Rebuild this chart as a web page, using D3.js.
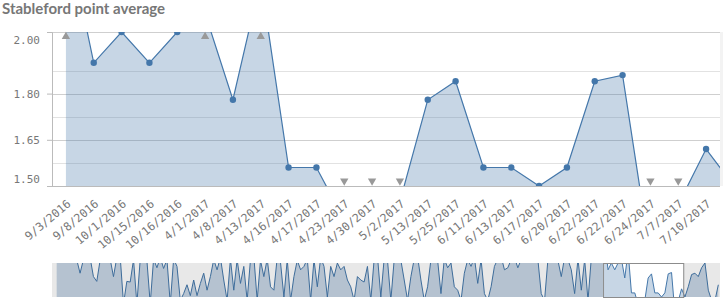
<!DOCTYPE html>
<html>
<head>
<meta charset="utf-8">
<script src="https://cdn.jsdelivr.net/npm/d3@7"></script>
<style>
  body { margin: 0; background: #fff; }
  .axis text { font-family: "DejaVu Sans Mono", monospace; fill: #777; }
</style>
</head>
<body>
<svg id="chart"></svg>
<script>
// rounds shown in the visible window
const categories = ['9/3/2016', '9/8/2016', '10/1/2016', '10/15/2016', '10/16/2016', '4/1/2017',
  '4/8/2017', '4/13/2017', '4/16/2017', '4/17/2017', '4/23/2017', '4/30/2017', '5/2/2017',
  '5/13/2017', '5/25/2017', '6/11/2017', '6/13/2017', '6/17/2017', '6/20/2017', '6/22/2017',
  '6/22/2017', '6/24/2017', '7/7/2017', '7/10/2017'];

const values = [2.33, 1.90, 2.00, 1.90, 2.00, 2.06, 1.78, 2.17, 1.56, 1.56, 1.39, 1.40, 1.45,
  1.78, 1.84, 1.56, 1.56, 1.50, 1.56, 1.84, 1.86, 1.27, 1.44, 1.62];

// rounds before / after the window (only seen in the scroll overview)
const earlierValues = [
  2.10, 2.15, 2.08, 2.12, 2.20, 2.10, 2.05, 1.85, 2.05, 2.12,
  2.08, 1.80, 1.73, 2.04, 2.10, 2.15, 2.06, 1.80, 2.08, 2.10,
  1.40, 1.73, 1.72, 2.05, 1.40, 2.05, 2.10, 2.04, 1.40, 2.06,
  1.93, 2.08, 1.92, 2.05, 1.40, 2.06, 1.95, 1.45, 1.55, 1.68,
  1.52, 1.75, 1.52, 1.70, 1.85, 1.60, 1.80, 2.05, 1.90, 2.08,
  1.75, 1.45, 2.06, 1.60, 2.05, 1.70, 1.95, 1.45, 2.05, 2.10,
  1.45, 2.04, 1.80, 2.06, 1.65, 1.60, 2.08, 2.00, 1.50, 2.05,
  1.45, 1.80, 2.04, 1.90, 1.95, 2.06, 1.45, 2.05, 1.65, 2.08,
  1.95, 1.50, 1.95, 1.80, 2.00, 1.90, 1.95, 1.75, 1.65, 1.45,
  1.80, 1.75, 1.72, 1.95, 1.45, 2.05, 2.10, 1.50, 2.06, 2.04,
  1.45, 2.05, 2.08, 2.04, 1.75, 1.45, 1.80, 2.06, 2.10, 1.75,
  1.45, 1.65, 2.05, 2.08, 2.04, 1.55, 2.06, 1.93, 2.00, 1.65,
  1.60, 1.45, 1.85, 2.05, 1.95, 2.08, 1.70, 2.05, 1.55, 1.45,
  1.65, 1.95, 2.06, 2.10, 1.90, 1.93, 2.05, 2.08, 1.93, 2.05,
  2.10, 2.06, 2.04, 2.08, 2.05, 1.55, 1.45, 2.05, 2.10, 2.06,
  2.04, 1.80, 2.08, 2.05, 1.90, 1.55, 2.06, 1.60, 2.05, 1.45,
  2.08, 2.04, 2.10, 2.06];
const laterValues = [1.50, 1.65, 1.83, 1.85, 1.80, 1.93, 2.00, 1.60, 1.45, 1.45, 1.68];

const yDomain = [1.5, 2.0];
const yTicks = [1.5, 1.65, 1.8, 2.0];
const yMinorTicks = [1.575, 1.725, 1.875];

const W = 723, H = 300;
const plot = { left: 52, right: 720, top: 32, bottom: 186 };
const nav = { left: 52, dataLeft: 55, right: 720, top: 263, bottom: 297 };
const blue = '#4477aa';

var svg = d3.select('#chart').attr('width', W).attr('height', H);

svg.append('text')
  .attr('x', 2).attr('y', 14)
  .style('font-family', 'Lato, sans-serif')
  .style('font-weight', 'bold')
  .style('font-size', '15px')
  .style('fill', '#777')
  .text('Stableford point average');

var x = d3.scaleBand()
  .domain(d3.range(categories.length))
  .range([plot.left, plot.right]);
var cx = i => x.range()[0] + x.step() * i + x.bandwidth() / 2;

var y = d3.scaleLinear().domain(yDomain).range([plot.bottom, plot.top]);

// grid
svg.append('g').selectAll('line')
  .data(yMinorTicks).enter().append('line')
  .attr('x1', plot.left).attr('x2', plot.right)
  .attr('y1', d => Math.round(y(d)) + 0.5).attr('y2', d => Math.round(y(d)) + 0.5)
  .style('stroke', '#e2e2e2');
svg.append('g').selectAll('line')
  .data(yTicks.slice(1)).enter().append('line')
  .attr('x1', plot.left).attr('x2', plot.right)
  .attr('y1', d => Math.round(y(d)) + 0.5).attr('y2', d => Math.round(y(d)) + 0.5)
  .style('stroke', '#cfcfcf');

svg.append('rect')
  .attr('x', plot.right).attr('y', plot.top)
  .attr('width', W - plot.right).attr('height', plot.bottom - plot.top)
  .style('fill', '#f3f3f3');

svg.append('clipPath').attr('id', 'plotClip')
  .append('rect')
  .attr('x', plot.left).attr('y', plot.top)
  .attr('width', plot.right - plot.left).attr('height', plot.bottom - plot.top);

// visible series + the next round that runs off the right edge
var series = values.concat(laterValues.slice(0, 1));

var area = d3.area()
  .x((d, i) => cx(i))
  .y0(plot.bottom)
  .y1(d => y(d));
var line = d3.line()
  .x((d, i) => cx(i))
  .y(d => y(d));

var main = svg.append('g').attr('clip-path', 'url(#plotClip)');
main.append('path').datum(series)
  .attr('d', area)
  .style('fill', blue).style('fill-opacity', 0.3);
main.append('path').datum(series)
  .attr('d', line)
  .style('fill', 'none').style('stroke', blue).style('stroke-width', 1.2);

var inRange = values.map((d, i) => ({ v: d, i: i }))
  .filter(d => d.v >= yDomain[0] && d.v <= yDomain[1]);
main.selectAll('circle')
  .data(inRange).enter().append('circle')
  .attr('cx', d => cx(d.i)).attr('cy', d => y(d.v))
  .attr('r', 3.2)
  .style('fill', blue);

// out of range markers
var tri = d3.symbol().type(d3.symbolTriangle).size(30);
svg.append('g').selectAll('path')
  .data(values.map((d, i) => ({ v: d, i: i })).filter(d => d.v > yDomain[1] || d.v < yDomain[0]))
  .enter().append('path')
  .attr('d', tri)
  .attr('transform', d => d.v > yDomain[1]
    ? 'translate(' + cx(d.i) + ',' + (plot.top + 4.5) + ')'
    : 'translate(' + cx(d.i) + ',' + (plot.bottom - 5) + ') rotate(180)')
  .style('fill', '#999');

// y axis
var yAxis = svg.append('g')
  .attr('class', 'axis')
  .attr('transform', 'translate(' + plot.left + ',0)')
  .call(d3.axisLeft(y).tickValues(yTicks).tickFormat(d3.format('.2f')).tickSize(5).tickPadding(7));
yAxis.select('.domain').style('stroke', '#bbb');
yAxis.selectAll('.tick line').style('stroke', '#bbb');
yAxis.selectAll('text')
  .style('font-size', '11px')
  .attr('dy', d => d === yDomain[1] ? '1.05em' : d === yDomain[0] ? '-0.35em' : '0.32em');

// x axis
svg.append('line')
  .attr('x1', plot.left).attr('x2', plot.right)
  .attr('y1', plot.bottom + 0.5).attr('y2', plot.bottom + 0.5)
  .style('stroke', '#bbb');
svg.append('g').attr('class', 'axis')
  .selectAll('text')
  .data(categories).enter().append('text')
  .attr('text-anchor', 'end')
  .attr('dy', '0.35em')
  .attr('transform', (d, i) => 'translate(' + (cx(i) + 3) + ',' + (plot.bottom + 16) + ') rotate(-40)')
  .style('font-size', '11.5px')
  .text(d => d);

// scroll overview
var all = earlierValues.concat(values, laterValues);
var nx = d3.scaleLinear().domain([0, all.length]).range([nav.dataLeft, nav.right]);
var ny = d3.scaleLinear().domain(yDomain).range([nav.bottom, nav.top]);

svg.append('clipPath').attr('id', 'navClip')
  .append('rect')
  .attr('x', nav.left).attr('y', nav.top)
  .attr('width', nav.right - nav.left).attr('height', nav.bottom - nav.top);

var navG = svg.append('g').attr('clip-path', 'url(#navClip)');
navG.append('path').datum(all)
  .attr('d', d3.area().x((d, i) => nx(i + 0.5)).y0(nav.bottom).y1(d => ny(d)))
  .style('fill', blue).style('fill-opacity', 0.3);
navG.append('path').datum(all)
  .attr('d', d3.line().x((d, i) => nx(i + 0.5)).y(d => ny(d)))
  .style('fill', 'none').style('stroke', blue).style('stroke-width', 1);

var w0 = nx(earlierValues.length), w1 = nx(earlierValues.length + values.length);
navG.append('rect')
  .attr('x', nav.left).attr('y', nav.top)
  .attr('width', w0 - nav.left).attr('height', nav.bottom - nav.top)
  .style('fill', '#000').style('fill-opacity', 0.09);
navG.append('rect')
  .attr('x', w1).attr('y', nav.top)
  .attr('width', nav.right - w1).attr('height', nav.bottom - nav.top)
  .style('fill', '#000').style('fill-opacity', 0.09);
svg.append('rect')
  .attr('x', w0 + 0.5).attr('y', nav.top + 0.5)
  .attr('width', w1 - w0).attr('height', nav.bottom - nav.top)
  .style('fill', 'none').style('stroke', '#8c8c8c');
</script>
</body>
</html>
